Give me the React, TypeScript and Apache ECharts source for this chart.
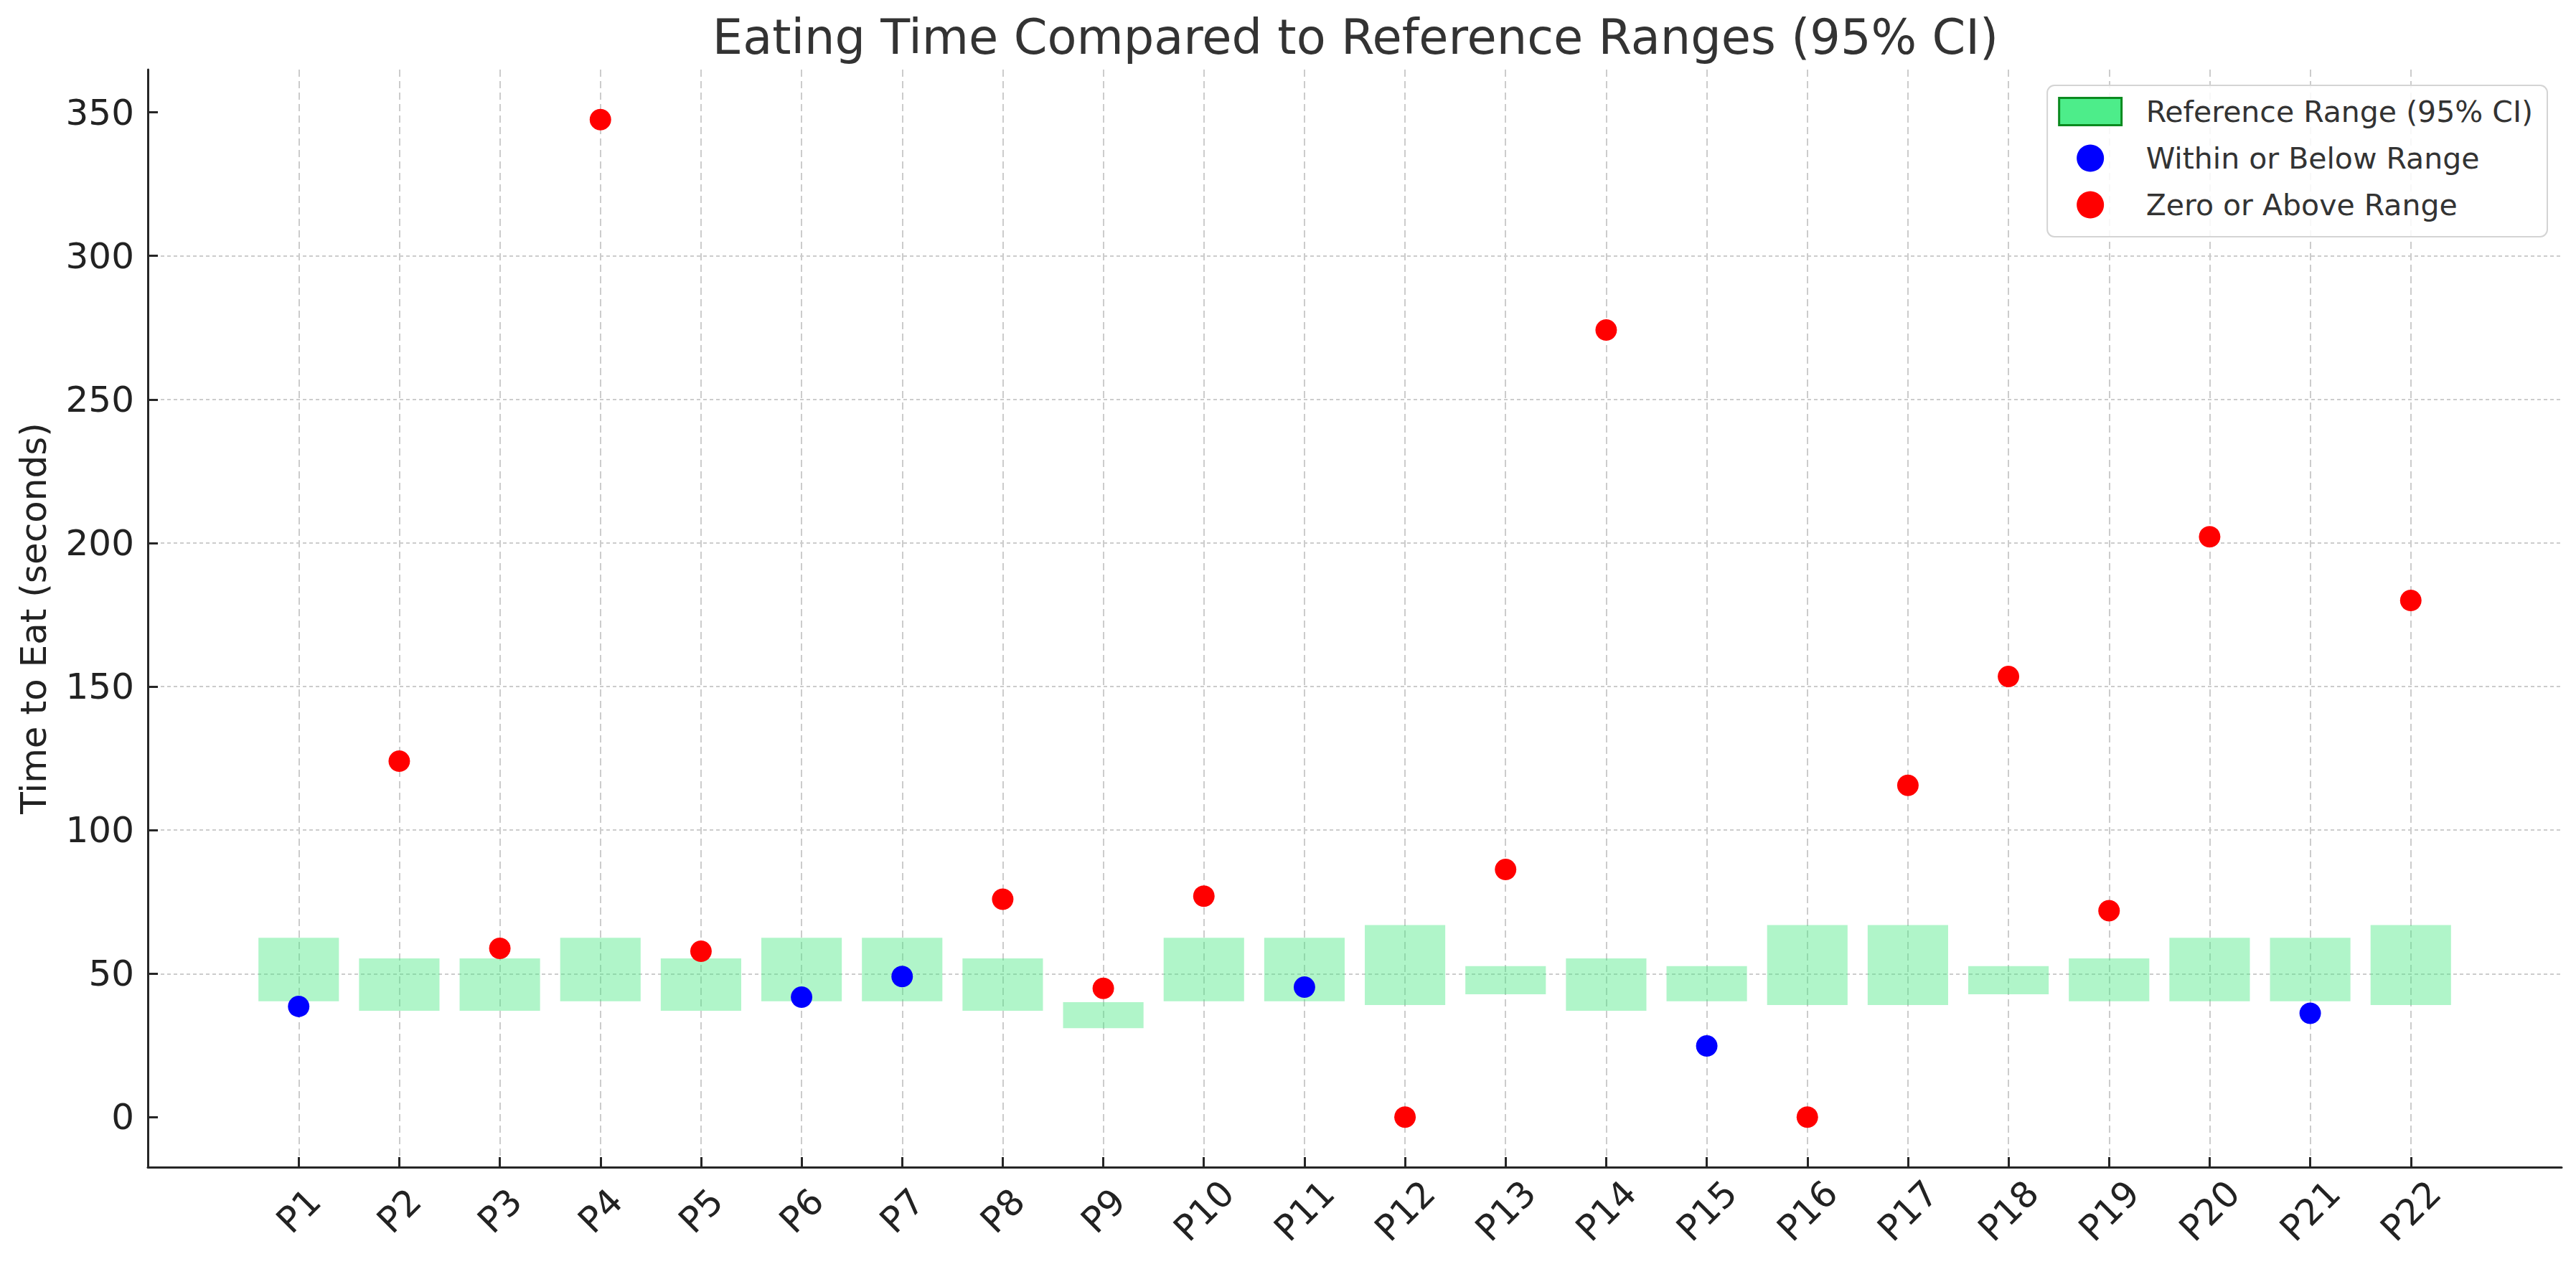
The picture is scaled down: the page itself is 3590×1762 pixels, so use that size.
import React, { useEffect, useRef } from "react";
import * as echarts from "echarts";

const participants = [
  "P1", "P2", "P3", "P4", "P5", "P6", "P7", "P8", "P9", "P10", "P11",
  "P12", "P13", "P14", "P15", "P16", "P17", "P18", "P19", "P20", "P21", "P22",
];
const eatingTimes = [
  38.6, 124, 58.8, 347.5, 57.8, 41.8, 49.0, 75.9, 44.9, 77.0, 45.3,
  0, 86.3, 274.2, 24.8, 0, 115.6, 153.5, 71.9, 202.2, 36.2, 180.0,
];
const rangeLows = [
  40.4, 37.1, 37.1, 40.4, 37.1, 40.4, 40.4, 37.1, 31.0, 40.4, 40.4,
  39.1, 42.8, 37.1, 40.4, 39.1, 39.1, 42.8, 40.4, 40.4, 40.4, 39.1,
];
const rangeHighs = [
  62.5, 55.3, 55.3, 62.5, 55.3, 62.5, 62.5, 55.3, 40.1, 62.5, 62.5,
  66.9, 52.6, 55.3, 52.6, 66.9, 66.9, 52.6, 55.3, 62.5, 62.5, 66.9,
];
const yTicks = [0, 50, 100, 150, 200, 250, 300, 350];
const titleText = "Eating Time Compared to Reference Ranges (95% CI)";
const yAxisTitle = "Time to Eat (seconds)";
const legendNames = [
  "Reference Range (95% CI)",
  "Within or Below Range",
  "Zero or Above Range",
];

const FONT = "'DejaVu Sans', sans-serif";

export default function App() {
  const ref = useRef<HTMLDivElement>(null);

  useEffect(() => {
    if (!ref.current) return;
    const chart = echarts.init(ref.current, null, { renderer: "svg" });

    const cats = [" ", ...participants, "  "];
    const wrap = (arr: (number | string)[]) => ["-", ...arr, "-"];
    const isAbove = (v: number, i: number) => v === 0 || v > rangeHighs[i];
    const lowData = wrap(rangeLows);
    const spanData = wrap(rangeHighs.map((h, i) => +(h - rangeLows[i]).toFixed(2)));
    const withinData = wrap(eatingTimes.map((v, i) => (isAbove(v, i) ? "-" : v)));
    const aboveData = wrap(eatingTimes.map((v, i) => (isAbove(v, i) ? v : "-")));
    const isReal = (_i: number, v: string) => String(v).trim() !== "";

    const axisColor = "#262626";
    const gridColor = "#cccccc";

    chart.setOption({
      animation: false,
      backgroundColor: "#ffffff",
      title: {
        text: titleText,
        left: 1889,
        top: 18,
        textAlign: "center",
        padding: 0,
        textStyle: { fontSize: 67, fontWeight: "normal", color: "#333333", fontFamily: FONT },
      },
      legend: {
        orient: "vertical",
        right: 40,
        top: 119,
        align: "left",
        itemWidth: 87,
        itemHeight: 38,
        itemGap: 24,
        padding: [16, 20, 24, 15],
        borderColor: "#d4d4d4",
        borderWidth: 2,
        borderRadius: 10,
        backgroundColor: "rgba(255,255,255,0.85)",
        textStyle: { fontSize: 41, color: "#333333", fontFamily: FONT, padding: [0, 0, 0, 29] },
        data: [
          {
            name: legendNames[0],
            icon: "rect",
            itemStyle: { color: "#4ded8a", borderColor: "#0b8a1f", borderWidth: 3 },
          },
          { name: legendNames[1], icon: "circle" },
          { name: legendNames[2], icon: "circle" },
        ],
      },
      grid: { left: 206, right: 20, top: 97, bottom: 135, containLabel: false },
      xAxis: {
        type: "category",
        data: cats,
        boundaryGap: true,
        axisLine: { show: true, onZero: false, lineStyle: { color: axisColor, width: 3 } },
        axisTick: {
          show: true,
          inside: true,
          length: 14,
          alignWithLabel: true,
          interval: isReal,
          lineStyle: { color: axisColor, width: 3 },
        },
        axisLabel: {
          interval: 0,
          rotate: 45,
          align: "center",
          verticalAlign: "middle",
          margin: 61,
          fontSize: 50,
          color: "#222222",
          fontFamily: FONT,
        },
        splitLine: {
          show: true,
          alignWithLabel: true,
          interval: isReal,
          lineStyle: { type: [10, 6], color: gridColor, width: 2 },
        },
      },
      yAxis: {
        type: "value",
        min: -17.4,
        max: 364.9,
        splitNumber: 8,
        minInterval: 50,
        maxInterval: 50,
        name: yAxisTitle,
        nameLocation: "middle",
        nameRotate: 90,
        nameGap: 134,
        nameTextStyle: { fontSize: 50, color: "#222222", fontFamily: FONT },
        axisLine: { show: true, lineStyle: { color: axisColor, width: 3 } },
        axisTick: {
          show: true,
          inside: true,
          length: 14,
          customValues: yTicks,
          lineStyle: { color: axisColor, width: 3 },
        },
        axisLabel: {
          customValues: yTicks,
          margin: 19,
          fontSize: 50,
          color: "#222222",
          fontFamily: FONT,
        },
        splitLine: {
          show: true,
          showMinLine: false,
          showMaxLine: false,
          lineStyle: { type: [5, 4], color: gridColor, width: 2 },
        },
      },
      series: [
        {
          name: "base",
          type: "bar",
          stack: "range",
          barWidth: "80%",
          silent: true,
          itemStyle: { color: "rgba(0,0,0,0)" },
          data: lowData,
        },
        {
          name: legendNames[0],
          type: "bar",
          stack: "range",
          barWidth: "80%",
          itemStyle: { color: "rgba(72,232,130,0.43)" },
          data: spanData,
        },
        {
          name: legendNames[1],
          type: "scatter",
          symbol: "circle",
          symbolSize: 30,
          itemStyle: { color: "#0000ff", opacity: 1 },
          data: withinData,
          z: 5,
        },
        {
          name: legendNames[2],
          type: "scatter",
          symbol: "circle",
          symbolSize: 30,
          itemStyle: { color: "#ff0000", opacity: 1 },
          data: aboveData,
          z: 5,
        },
      ],
    });

    return () => chart.dispose();
  }, []);

  return (
    <div
      ref={ref}
      style={{ position: "absolute", left: 0, top: 0, width: 3590, height: 1762, background: "#fff" }}
    />
  );
}
